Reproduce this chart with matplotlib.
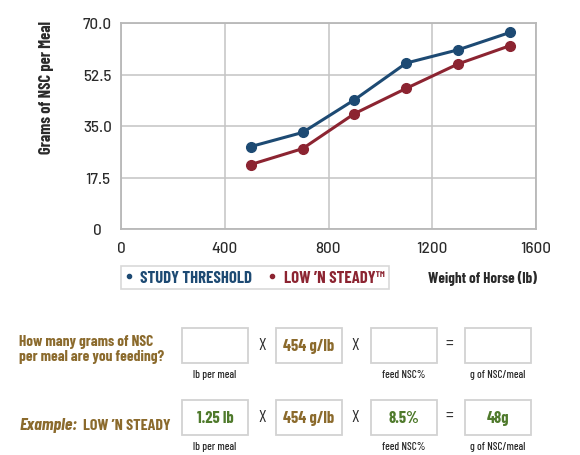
import matplotlib
matplotlib.use('Agg')
from matplotlib import pyplot as plt
from matplotlib import font_manager
from matplotlib.patches import Rectangle
from matplotlib.lines import Line2D

# data
weights = [500, 700, 900, 1100, 1300, 1500]
study_threshold = [28.0, 32.8, 43.9, 56.4, 60.9, 66.8]
low_n_steady = [21.9, 27.3, 39.2, 47.8, 56.1, 62.3]

x_ticks = [0, 400, 800, 1200, 1600]
y_ticks = [0, 17.5, 35.0, 52.5, 70.0]
y_tick_labels = ['0', '17.5', '35.0', '52.5', '70.0']

series_names = ['STUDY THRESHOLD', 'LOW \u2019N STEADY\u2122']

row_labels = ['lb per meal', '', 'feed NSC%', 'g of NSC/meal']
blank_values = ['', '454 g/lb', '', '']
example_values = ['1.25 lb', '454 g/lb', '8.5%', '48g']
operators = ['X', 'X', '=']

BLUE = '#1d4a73'
RED = '#8c2431'
GOLD = '#8b6a2c'
GREEN = '#4f7a2c'
DARK = '#2a2a2a'
BOX_EDGE = '#d2d2d2'

installed = {f.name for f in font_manager.fontManager.ttflist}


def pick(*names):
    for n in names:
        if n in installed:
            return [n, 'DejaVu Sans']
    return ['DejaVu Sans']


COND = pick('Barlow Condensed', 'Roboto Condensed', 'Liberation Sans Narrow', 'Roboto')
PLAIN = pick('Barlow', 'Roboto')

plt.rcParams['font.family'] = COND

W, H = 580, 456
fig = plt.figure(figsize=(W / 100, H / 100), dpi=100)


def fx(px):
    return px / W


def fy(py):
    return 1 - py / H


# main chart
ax = fig.add_axes([fx(121), fy(230), (536 - 121) / W, (230 - 24) / H])
ax.plot(weights, study_threshold, color=BLUE, lw=2.2, marker='o', ms=7, zorder=3)
ax.plot(weights, low_n_steady, color=RED, lw=2.2, marker='o', ms=7, zorder=3)

ax.set_xlim(0, 1600)
ax.set_ylim(0, 70)
ax.set_xticks(x_ticks)
ax.set_xticklabels([str(t) for t in x_ticks], family=PLAIN, fontsize=11, fontweight='medium')
ax.set_yticks(y_ticks)
ax.set_yticklabels(y_tick_labels, family=PLAIN, fontsize=11, fontweight='medium', ha='center')
ax.tick_params(axis='both', length=0, labelcolor=DARK)
ax.tick_params(axis='y', pad=17)
ax.tick_params(axis='x', pad=9)
ax.grid(color='#c4c4c4', linewidth=1.1)
ax.set_axisbelow(True)
for sp in ax.spines.values():
    sp.set_color('#b8b8b8')
    sp.set_linewidth(1.3)

fig.text(fx(47), fy(87), 'Grams of NSC per Meal', rotation=90, ha='center', va='center',
         fontsize=11.8, fontweight='bold', color=DARK)
fig.text(fx(537), fy(279), 'Weight of Horse (lb)', ha='right', va='center',
         fontsize=10.8, fontweight='bold', color=DARK)

# legend
handles = [Line2D([], [], color=BLUE, marker='o', ls='none', ms=3),
           Line2D([], [], color=RED, marker='o', ls='none', ms=3)]
leg = fig.legend(handles, series_names, loc='center', ncol=2,
                 bbox_to_anchor=(fx(255), fy(278.5)), frameon=True, fancybox=False,
                 handlelength=0.4, handletextpad=0.5, columnspacing=1.0,
                 prop={'family': COND, 'weight': 'bold', 'size': 12}, borderpad=0.25,
                 borderaxespad=0)
leg.get_frame().set_edgecolor('#cfcfcf')
leg.get_frame().set_linewidth(1.2)
for txt, c in zip(leg.get_texts(), [BLUE, RED]):
    txt.set_color(c)

# calculator rows
box_left = [182, 276, 371, 465]
box_w = 66
op_x = [262, 355, 449]


def draw_row(top, values, colors):
    bottom = top + 35
    mid = top + 17.5
    for i, left in enumerate(box_left):
        fig.patches.append(Rectangle((fx(left), fy(bottom)), box_w / W, 35 / H,
                                     transform=fig.transFigure, fill=False,
                                     edgecolor=BOX_EDGE, linewidth=1.3))
        if values[i]:
            fig.text(fx(left + box_w / 2), fy(mid), values[i], ha='center', va='center',
                     fontsize=11.8, fontweight='bold', color=colors[i])
        if row_labels[i]:
            fig.text(fx(left + box_w / 2), fy(bottom + 11), row_labels[i], ha='center',
                     va='center', fontsize=8, fontweight='medium', color=DARK)
    for x, op in zip(op_x, operators):
        fig.text(fx(x), fy(mid - 1), op, ha='center', va='center', fontsize=12.5,
                 color=DARK)


draw_row(329, blank_values, [GOLD, GOLD, GOLD, GOLD])
draw_row(401, example_values, [GREEN, GOLD, GREEN, GREEN])

fig.text(fx(19), fy(346), 'How many grams of NSC', ha='left', va='baseline',
         fontsize=11, fontweight='bold', color=GOLD)
fig.text(fx(19), fy(361), 'per meal are you feeding?', ha='left', va='baseline',
         fontsize=11, fontweight='bold', color=GOLD)
fig.text(fx(20), fy(430), 'Example:', ha='left', va='baseline', fontsize=12.8,
         fontweight='bold', fontstyle='italic', color=GOLD)
fig.text(fx(83), fy(430), 'LOW \u2019N STEADY', ha='left', va='baseline', fontsize=11.5,
         fontweight='bold', color=GOLD)

fig.savefig('out.png', dpi=100)
